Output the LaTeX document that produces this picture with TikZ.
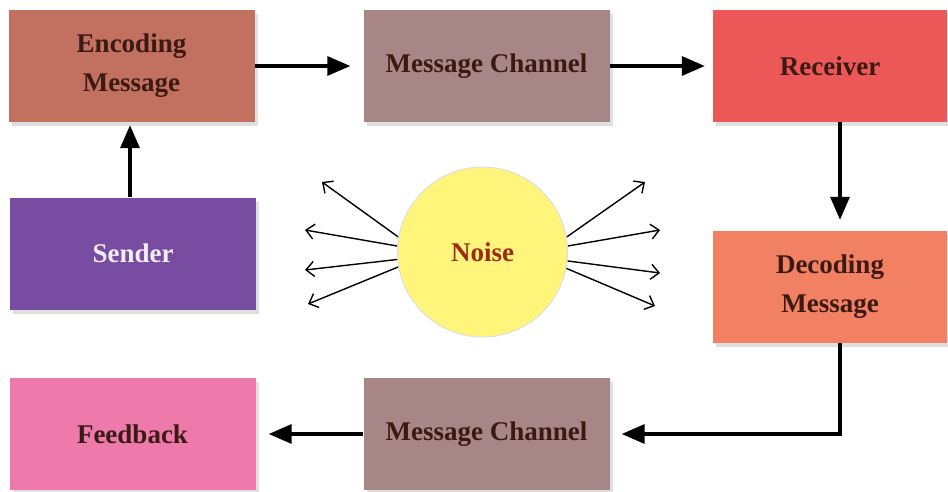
\documentclass[tikz,border=0pt]{standalone}
\usepackage{fontspec}
\setmainfont{Liberation Serif}
\usetikzlibrary{arrows.meta,shadows}

\definecolor{encodecol}{HTML}{C27060}
\definecolor{channelcol}{HTML}{A68686}
\definecolor{receivecol}{HTML}{EC5858}
\definecolor{sendercol}{HTML}{784CA0}
\definecolor{decodecol}{HTML}{F28062}
\definecolor{feedbackcol}{HTML}{EE7AAC}
\definecolor{noisecol}{HTML}{FFF57A}
\definecolor{textcol}{HTML}{3B1A14}
\definecolor{noisetext}{HTML}{9E2A1A}

\begin{document}
\begin{tikzpicture}[
		x=1pt, y=-1pt,
		box/.style={rectangle, minimum width=246pt, minimum height=112pt, inner sep=0pt,
			align=center, text=textcol, font=\fontsize{27}{39}\selectfont\bfseries,
			drop shadow={shadow xshift=3pt, shadow yshift=-4pt, opacity=0.25}},
		narrowbox/.style={box, minimum width=234pt},
		flow/.style={line width=3.4pt, -{Triangle[length=23pt, width=19pt]}},
		ray/.style={line width=1.4pt, -{Straight Barb[length=8pt, width=15pt]}}
	]
  \useasboundingbox (0,0) rectangle (948,491);

  \node (encode) [box, fill=encodecol] at (131.5, 66) {Encoding\\Message};
  \node (channel_top) [box, fill=channelcol] at (486.5, 66) {Message Channel};
  \node (receiver) [narrowbox, fill=receivecol] at (830, 66) {Receiver};
  \node (sender) [box, fill=sendercol, text=white!90!sendercol] at (133, 253.5) {Sender};
  \node (decode) [narrowbox, fill=decodecol] at (830, 287) {Decoding\\Message};
  \node (channel_bot) [box, fill=channelcol] at (486.5, 434) {Message Channel};
  \node (feedback) [box, fill=feedbackcol] at (132.5, 434) {Feedback};

  % rays out of the noise
  \coordinate (l1) at (322, 182);
  \coordinate (l2) at (305, 230);
  \coordinate (l3) at (305, 270);
  \coordinate (l4) at (308, 304);
  \coordinate (r1) at (645, 182);
  \coordinate (r2) at (660, 230);
  \coordinate (r3) at (660, 273);
  \coordinate (r4) at (655, 306);
  \node (noise_pos) [circle, minimum size=170pt, inner sep=0pt] at (482.5, 252) {};
  \draw [ray] (noise_pos.170) -- (l1);
  \draw [ray] (noise_pos.176) -- (l2);
  \draw [ray] (noise_pos.185) -- (l3);
  \draw [ray] (noise_pos.190) -- (l4);
  \draw [ray] (noise_pos.10) -- (r1);
  \draw [ray] (noise_pos.4) -- (r2);
  \draw [ray] (noise_pos.-6) -- (r3);
  \draw [ray] (noise_pos.-11) -- (r4);
  \node (noise) [circle, minimum size=170pt, inner sep=0pt, fill=noisecol, draw=gray!25,
    line width=1pt, text=noisetext, font=\fontsize{27}{30}\selectfont\bfseries]
    at (482.5, 252) {Noise};

  \draw [flow, shorten >=13pt] (encode.east) -- (channel_top.west);
  \draw [flow, shorten >=8pt] (channel_top.east) -- (receiver.west);
  \draw [flow, shorten >=11pt] ([xshift=10pt]receiver.south) -- ([xshift=10pt]decode.north);
  \draw [flow, shorten >=12pt] ([xshift=10pt]decode.south) |- (channel_bot.east);
  \draw [flow, shorten >=13pt] (channel_bot.west) -- (feedback.east);
  \draw [flow, shorten >=3pt] ([xshift=-1.5pt]encode.south |- sender.north) -- ([xshift=-1.5pt]encode.south);
\end{tikzpicture}
\end{document}
